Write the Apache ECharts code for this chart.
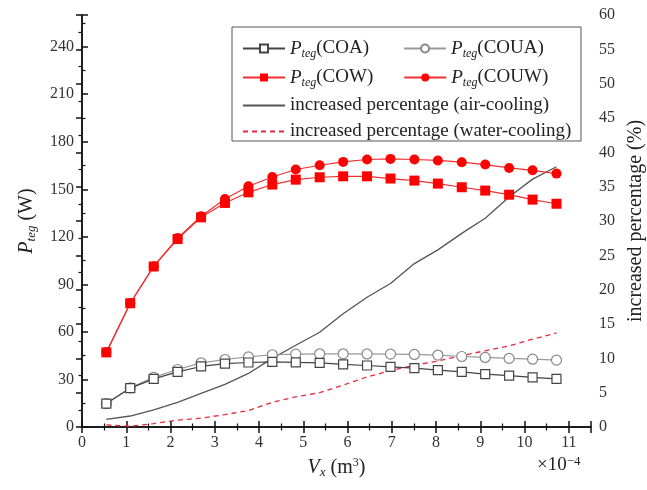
<!DOCTYPE html>
<html>
<head>
<meta charset="utf-8">
<script src="https://cdn.jsdelivr.net/npm/echarts@6/dist/echarts.min.js"></script>
<style>
  html, body { margin: 0; padding: 0; background: #fff; }
  #chart { width: 647px; height: 490px; }
</style>
</head>
<body>
<div id="chart"></div>
<script>
// volume Vx (x 10^-4 m3)
var vx = [0.55, 1.09, 1.62, 2.16, 2.69, 3.23, 3.76, 4.30, 4.83, 5.37, 5.90, 6.44, 6.97, 7.51, 8.04, 8.58, 9.11, 9.65, 10.18, 10.72];
// Pteg (W)
var coa  = [14.8, 24.5, 30.4, 34.8, 38.2, 40.0, 40.7, 41.1, 40.8, 40.5, 39.5, 38.8, 38.0, 37.1, 35.9, 34.8, 33.4, 32.4, 31.3, 30.4];
var coua = [14.8, 24.7, 31.3, 36.3, 40.5, 42.6, 44.2, 45.6, 46.0, 46.2, 46.2, 46.1, 46.0, 45.8, 45.4, 44.5, 43.9, 43.3, 42.8, 42.2];
var cow  = [47.1, 78.1, 101.3, 118.6, 132.3, 141.4, 148.1, 153.0, 156.1, 157.6, 158.2, 158.2, 156.8, 155.5, 153.6, 151.3, 149.2, 146.6, 143.5, 140.9];
var couw = [47.1, 78.1, 101.5, 119.2, 133.0, 143.9, 151.9, 157.8, 162.5, 165.2, 167.3, 168.8, 169.2, 168.8, 168.2, 167.1, 165.6, 163.5, 162.0, 159.9];
// increased percentage (%)
var airPct   = [1.1, 1.6, 2.5, 3.6, 4.9, 6.2, 7.8, 10.0, 11.9, 13.8, 16.5, 18.9, 20.9, 23.8, 25.8, 28.2, 30.4, 33.5, 36.1, 37.9];
var waterPct = [0.3, 0.1, 0.5, 1.0, 1.3, 1.8, 2.4, 3.6, 4.4, 5.0, 6.1, 7.3, 8.2, 9.0, 9.6, 10.4, 11.1, 11.8, 12.8, 13.7];

var labels = {
  COA: '{p|P}{s|teg}{t|(COA)}',
  COUA: '{p|P}{s|teg}{t|(COUA)}',
  COW: '{p|P}{s|teg}{t|(COW)}',
  COUW: '{p|P}{s|teg}{t|(COUW)}',
  air: 'increased percentage (air-cooling)',
  water: 'increased percentage (water-cooling)'
};

function pairs(arr) { return vx.map(function (x, i) { return [x, arr[i]]; }); }

var serif = 'Liberation Serif';
var richText = {
  p: { fontFamily: serif, fontStyle: 'italic', fontSize: 19, lineHeight: 22, color: '#222' },
  s: { fontFamily: serif, fontStyle: 'italic', fontSize: 12, lineHeight: 12, verticalAlign: 'bottom', color: '#222' },
  t: { fontFamily: serif, fontSize: 19, lineHeight: 22, color: '#222' }
};

function legendRow(names, left, top, gap) {
  return {
    data: names, left: left, top: top, orient: 'horizontal',
    itemWidth: 42, itemHeight: 10, itemGap: gap, selectedMode: false,
    formatter: function (n) { return labels[n]; },
    textStyle: { fontFamily: serif, fontSize: 19, color: '#222', rich: richText }
  };
}

// negative lengths put both major and minor ticks inside the frame
var ticks = {
  axisTick: { show: true, inside: false, length: -6, lineStyle: { color: '#111', width: 1.5 } },
  minorTick: { show: true, splitNumber: 2, length: -3.5, lineStyle: { color: '#111', width: 1.2 } }
};

var axisCommon = Object.assign({
  axisLine: { show: true, lineStyle: { color: '#111', width: 1.5 } },
  splitLine: { show: false },
  axisLabel: { fontFamily: serif, fontSize: 16, color: '#333', margin: 8 }
}, ticks);

var chart = echarts.init(document.getElementById('chart'));
chart.setOption({
  animation: false,
  grid: { left: 82, right: 56, top: 15, bottom: 63, outerBoundsMode: 'none', containLabel: false },
  legend: [
    legendRow(['COA', 'COUA'], 237, 34, 34),
    legendRow(['COW', 'COUW'], 237, 63, 30),
    legendRow([{ name: 'air', itemStyle: { opacity: 0 } }], 237, 91, 10),
    legendRow([{ name: 'water', itemStyle: { opacity: 0 } }], 237, 117, 10)
  ],
  graphic: [
    { type: 'rect', shape: { x: 232, y: 27, width: 349, height: 114 }, style: { fill: 'none', stroke: '#555', lineWidth: 1 } },
    { type: 'text', left: 537, top: 455, style: { text: '×10{sup|−4}', fontFamily: serif, fontSize: 19, fill: '#222',
      rich: { sup: { fontFamily: serif, fontSize: 13, verticalAlign: 'top', padding: [0, 0, 8, 0], fill: '#222' } } } }
  ],
  xAxis: [
    Object.assign({}, axisCommon, {
      type: 'value', min: 0, max: 11.5, interval: 1,
      axisLabel: Object.assign({}, axisCommon.axisLabel, { showMaxLabel: false }),
      name: '{i|V}{s|x}{t| (m}{sup|3}{t|)}', nameLocation: 'middle', nameGap: 30,
      nameTextStyle: { rich: {
        i: { fontFamily: serif, fontStyle: 'italic', fontSize: 20, lineHeight: 22, color: '#222' },
        s: { fontFamily: serif, fontStyle: 'italic', fontSize: 13, lineHeight: 12, verticalAlign: 'bottom', color: '#222' },
        t: { fontFamily: serif, fontSize: 20, lineHeight: 22, color: '#222' },
        sup: { fontFamily: serif, fontSize: 12, verticalAlign: 'top', lineHeight: 12, color: '#222' }
      } }
    }),
    Object.assign({}, axisCommon, {
      type: 'value', position: 'top', min: 0, max: 11.5, interval: 1,
      axisLabel: { show: false }
    })
  ],
  yAxis: [
    Object.assign({}, axisCommon, {
      type: 'value', min: 0, max: 260, interval: 30,
      axisLabel: Object.assign({}, axisCommon.axisLabel, { showMaxLabel: false }),
      name: '{p|P}{s|teg}{t| (W)}', nameLocation: 'middle', nameGap: 44, nameRotate: 90,
      nameTextStyle: { rich: {
        p: { fontFamily: serif, fontStyle: 'italic', fontSize: 20, lineHeight: 22, color: '#222' },
        s: { fontFamily: serif, fontStyle: 'italic', fontSize: 13, lineHeight: 12, verticalAlign: 'bottom', color: '#222' },
        t: { fontFamily: serif, fontSize: 20, lineHeight: 22, color: '#222' }
      } }
    }),
    Object.assign({}, axisCommon, {
      type: 'value', position: 'right', min: 0, max: 60, interval: 5,
      name: 'increased percentage (%)', nameLocation: 'middle', nameGap: 34, nameRotate: 90,
      nameTextStyle: { fontFamily: serif, fontSize: 20, color: '#222' }
    })
  ],
  series: [
    { name: 'air', type: 'line', yAxisIndex: 1, data: pairs(airPct), symbol: 'none',
      lineStyle: { color: '#555', width: 1.3 }, itemStyle: { color: '#555' }, z: 2 },
    { name: 'water', type: 'line', yAxisIndex: 1, data: pairs(waterPct), symbol: 'none',
      lineStyle: { color: '#e8283c', width: 1.3, type: [5, 4] }, itemStyle: { color: '#e8283c' }, z: 2 },
    { name: 'COUA', type: 'line', data: pairs(coua), symbol: 'circle', symbolSize: 10,
      lineStyle: { color: '#999', width: 1.2 }, itemStyle: { color: '#fff', borderColor: '#888', borderWidth: 1.2 }, z: 3 },
    { name: 'COA', type: 'line', data: pairs(coa), symbol: 'rect', symbolSize: 9,
      lineStyle: { color: '#444', width: 1.2 }, itemStyle: { color: '#fff', borderColor: '#444', borderWidth: 1.2 }, z: 4 },
    { name: 'COUW', type: 'line', data: pairs(couw), symbol: 'circle', symbolSize: 10,
      lineStyle: { color: '#f03030', width: 1.2 }, itemStyle: { color: '#ff0000' }, z: 5 },
    { name: 'COW', type: 'line', data: pairs(cow), symbol: 'rect', symbolSize: 10,
      lineStyle: { color: '#f03030', width: 1.2 }, itemStyle: { color: '#ff0000' }, z: 6 }
  ]
});
</script>
</body>
</html>
